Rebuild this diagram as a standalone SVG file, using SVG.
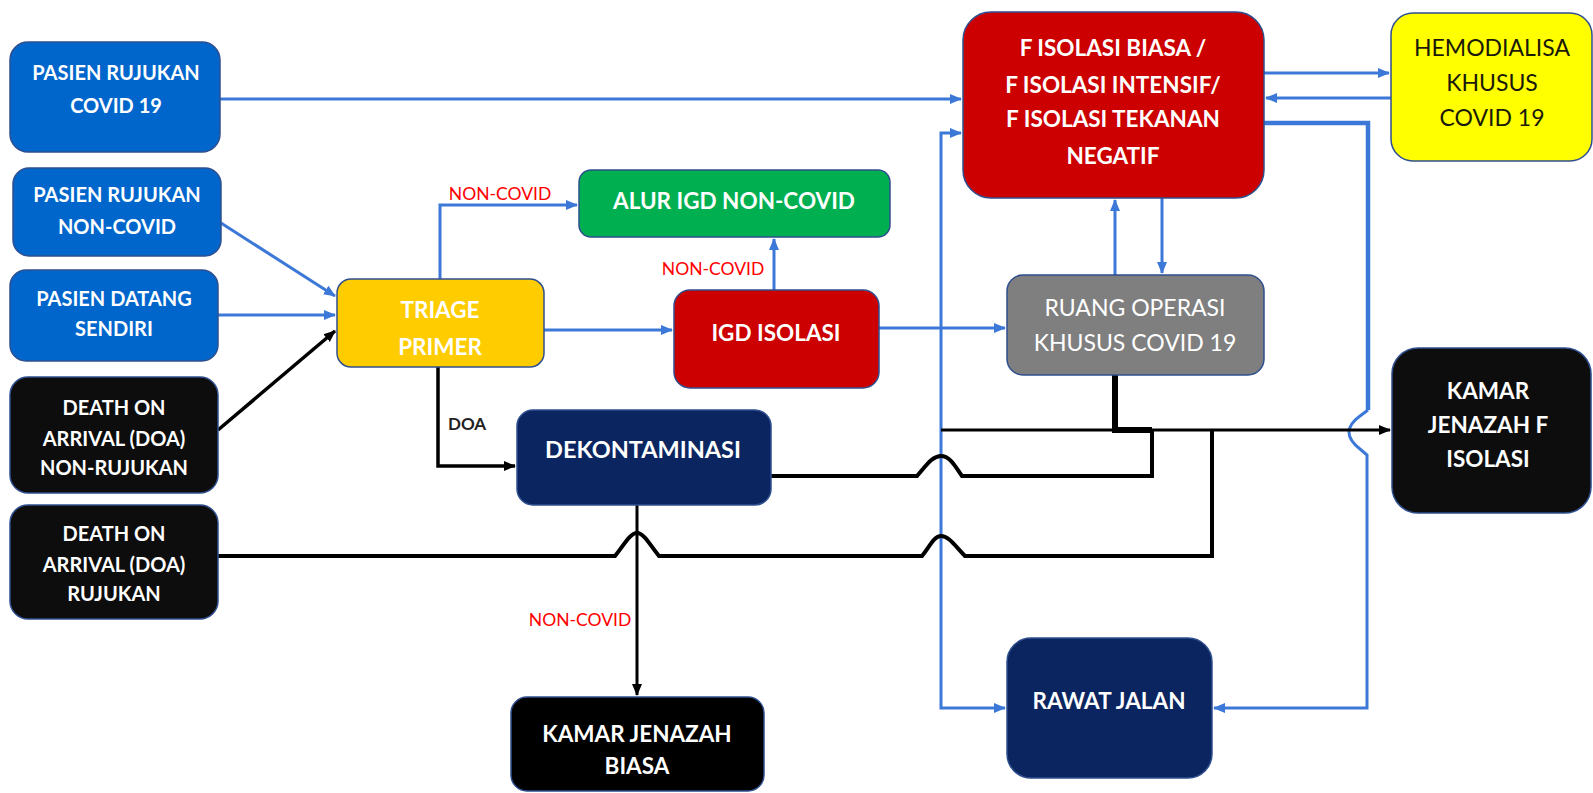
<svg xmlns="http://www.w3.org/2000/svg" width="1593" height="793" viewBox="0 0 1593 793">
<style>
.box{stroke:#2f4f8f;stroke-width:1.5}
.blue{fill:#0066cc}.navy{fill:#0b2560}.blk{fill:#0d0d0d}.red{fill:#cc0000}.yel{fill:#ffcc00}.grn{fill:#00b050}.gry{fill:#7f7f7f}.hem{fill:#ffff00}
text{font-family:Lato,"Open Sans","Liberation Sans",sans-serif;text-anchor:middle;dominant-baseline:central}
.t{fill:#fff;font-weight:bold;font-size:20px}
.tl{fill:#fff;font-weight:bold;font-size:22.5px}
.tr{fill:#fff;font-size:23px}
.th{fill:#1a1a0a;font-size:23px}
.lbl{fill:#ff0000;font-size:17.5px}
.doa{fill:#222;font-weight:bold;font-size:17px;text-anchor:start}
.cb{fill:none;stroke:#3c78d8;stroke-width:3}
.ck{fill:none;stroke:#000;stroke-width:4}
</style>
<defs>
<marker id="ab" markerUnits="userSpaceOnUse" markerWidth="12" markerHeight="12" viewBox="0 0 12 12" refX="11" refY="6" orient="auto"><path d="M0,1 L12,6 L0,11 Z" fill="#3c78d8"/></marker>
<marker id="ak" markerUnits="userSpaceOnUse" markerWidth="12" markerHeight="12" viewBox="0 0 12 12" refX="11" refY="6" orient="auto"><path d="M0,1 L12,6 L0,11 Z" fill="#000"/></marker>
</defs>
<rect width="1593" height="793" fill="#fff"/>
<g id="connectors">
<path class="cb" d="M220,99 H961" marker-end="url(#ab)"/>
<path class="cb" d="M221,223 L335,296" marker-end="url(#ab)"/>
<path class="cb" d="M218,315 H335" marker-end="url(#ab)"/>
<path class="ck" style="stroke-width:3.5" d="M218,430 L335,331" marker-end="url(#ak)"/>
<path class="cb" d="M440,279 V205 H577" marker-end="url(#ab)"/>
<path class="cb" d="M544,330 H672" marker-end="url(#ab)"/>
<path class="cb" d="M774,290 V239" marker-end="url(#ab)"/>
<path class="cb" d="M879,328 H1005" marker-end="url(#ab)"/>
<path class="cb" d="M941,430 V133 H961" marker-end="url(#ab)"/>
<path class="cb" d="M941,430 V708 H1005" marker-end="url(#ab)"/>
<path class="cb" d="M1264,73 H1389" marker-end="url(#ab)"/>
<path class="cb" d="M1391,98 H1266" marker-end="url(#ab)"/>
<path class="cb" d="M1115,275 V200" marker-end="url(#ab)"/>
<path class="cb" d="M1162,198 V273" marker-end="url(#ab)"/>
<path class="cb" style="stroke-width:4.5" d="M1264,123 H1368 V410"/>
<path class="cb" d="M1368,410 L1360,416 Q1338,432 1360,449 L1367,455 V708 H1214" marker-end="url(#ab)"/>
<path class="ck" style="stroke-width:3" d="M941,430 H1390" marker-end="url(#ak)"/>
<path class="ck" style="stroke-width:6" d="M1115,375 V430 H1152"/>
<path class="ck" d="M771,476 H917 C926,466 932,456 941,456 C950,456 955,466 962,476 H1152 V430"/>
<path class="ck" d="M218,556 H615 C624,545 630,533 637,533 C644,533 650,545 659,556 H922 C930,546 934,536 941,536 C949,536 955,546 965,556 H1212 V430"/>
<path class="ck" style="stroke-width:3" d="M637,505 V695" marker-end="url(#ak)"/>
<path class="ck" style="stroke-width:3.5" d="M438,367 V466 H515" marker-end="url(#ak)"/>
<text class="lbl" x="500" y="193">NON-COVID</text>
<text class="lbl" x="713" y="268">NON-COVID</text>
<text class="lbl" x="580" y="619">NON-COVID</text>
<text class="doa" x="448" y="423">DOA</text>
</g>
<g id="p1"><rect class="box blue" x="10" y="42" width="210" height="110" rx="18"/><text class="t" x="116" y="72">PASIEN RUJUKAN</text><text class="t" x="116" y="105">COVID 19</text></g>
<g id="p2"><rect class="box blue" x="13" y="168" width="208" height="88" rx="16"/><text class="t" x="117" y="194">PASIEN RUJUKAN</text><text class="t" x="117" y="226">NON-COVID</text></g>
<g id="p3"><rect class="box blue" x="10" y="270" width="208" height="91" rx="16"/><text class="t" x="114" y="298">PASIEN DATANG</text><text class="t" x="114" y="328">SENDIRI</text></g>
<g id="p4"><rect class="box blk" x="10" y="377" width="208" height="116" rx="18"/><text class="t" x="114" y="407">DEATH ON</text><text class="t" x="114" y="438">ARRIVAL (DOA)</text><text class="t" x="114" y="467">NON-RUJUKAN</text></g>
<g id="p5"><rect class="box blk" x="10" y="505" width="208" height="114" rx="18"/><text class="t" x="114" y="533">DEATH ON</text><text class="t" x="114" y="564">ARRIVAL (DOA)</text><text class="t" x="114" y="593">RUJUKAN</text></g>
<g id="triage"><rect class="box yel" x="337" y="279" width="207" height="88" rx="14"/><text class="tl" x="440" y="309">TRIAGE</text><text class="tl" x="440" y="346">PRIMER</text></g>
<g id="alur"><rect class="box grn" x="579" y="170" width="311" height="67" rx="12"/><text class="tl" x="734" y="200">ALUR IGD NON-COVID</text></g>
<g id="igd"><rect class="box red" x="674" y="290" width="205" height="98" rx="16"/><text class="tl" x="776" y="332">IGD ISOLASI</text></g>
<g id="fiso"><rect class="box red" x="963" y="12" width="301" height="186" rx="28"/><text class="tl" x="1113" y="47">F ISOLASI BIASA /</text><text class="tl" x="1113" y="84">F ISOLASI INTENSIF/</text><text class="tl" x="1113" y="118">F ISOLASI TEKANAN</text><text class="tl" x="1113" y="155">NEGATIF</text></g>
<g id="hemo"><rect class="box hem" x="1391" y="13" width="201" height="148" rx="22"/><text class="th" x="1492" y="47">HEMODIALISA</text><text class="th" x="1492" y="82">KHUSUS</text><text class="th" x="1492" y="117">COVID 19</text></g>
<g id="ruang"><rect class="box gry" x="1007" y="275" width="257" height="100" rx="16"/><text class="tr" x="1135" y="307">RUANG OPERASI</text><text class="tr" x="1135" y="342">KHUSUS COVID 19</text></g>
<g id="kamarF"><rect class="box blk" x="1392" y="348" width="199" height="165" rx="26"/><text class="tl" x="1488" y="390">KAMAR</text><text class="tl" x="1488" y="424">JENAZAH F</text><text class="tl" x="1488" y="458">ISOLASI</text></g>
<g id="dekont"><rect class="box navy" x="517" y="410" width="254" height="95" rx="16"/><text class="tl" style="font-size:23.5px" x="643" y="449">DEKONTAMINASI</text></g>
<g id="kamarB"><rect class="box" style="fill:#000" x="511" y="697" width="253" height="94" rx="16"/><text class="tl" x="637" y="733">KAMAR JENAZAH</text><text class="tl" x="637" y="765">BIASA</text></g>
<g id="rawat"><rect class="box navy" x="1007" y="638" width="205" height="140" rx="24"/><text class="tl" x="1109" y="700">RAWAT JALAN</text></g>
</svg>
